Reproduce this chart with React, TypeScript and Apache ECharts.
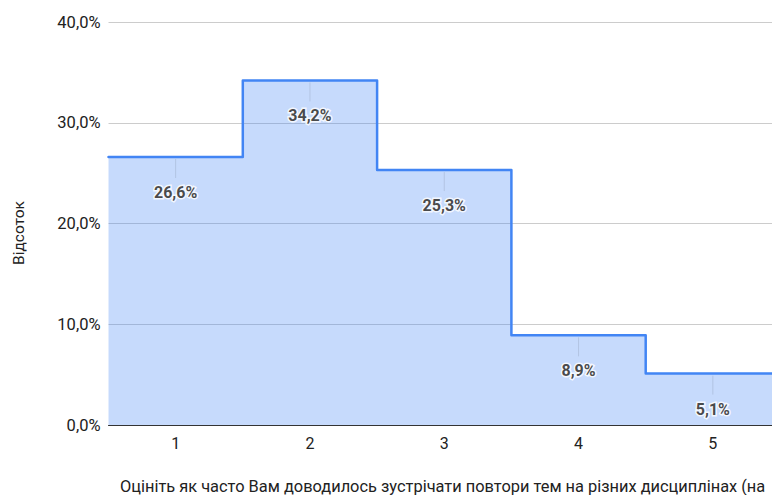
import React, { useEffect, useRef } from "react";
import * as echarts from "echarts";

const categories: string[] = ["1", "2", "3", "4", "5"];
const percentValues: number[] = [26.6, 34.2, 25.3, 8.9, 5.1];
const yTicks = { min: 0, max: 40, interval: 10 };
const yAxisTitle = "Відсоток";
const xAxisTitle = "Оцініть як часто Вам доводилось зустрічати повтори тем на різних дисциплінах (на";

const fmt = (v: number) => v.toFixed(1).replace(".", ",") + "%";

export default function App() {
  const ref = useRef<HTMLDivElement>(null);
  useEffect(() => {
    document.body.style.margin = "0";
    if (!ref.current) return;
    const chart = echarts.init(ref.current, null, { renderer: "svg" });

    // step data on hidden value axis: edges at i+0.5
    const stepData: [number, number][] = percentValues.map((v, i) => [i + 0.5, v]);
    stepData.push([percentValues.length + 0.5, percentValues[percentValues.length - 1]]);

    const font = "Roboto, Arial, sans-serif";

    chart.setOption({
      animation: false,
      backgroundColor: "#ffffff",
      grid: { left: 108.5, top: 22, width: 671.5, height: 403, containLabel: false },
      xAxis: [
        {
          type: "category",
          data: categories,
          boundaryGap: true,
          axisLine: { show: true, lineStyle: { color: "#333333", width: 1 } },
          axisTick: { show: false },
          axisLabel: { color: "#222222", fontSize: 16, fontFamily: font, margin: 10 },
          splitLine: { show: false },
        },
        {
          type: "value",
          min: 0.5,
          max: categories.length + 0.5,
          show: false,
          splitLine: { show: false },
        },
      ],
      yAxis: {
        type: "value",
        min: yTicks.min,
        max: yTicks.max,
        interval: yTicks.interval,
        axisLine: { show: false },
        axisTick: { show: false },
        axisLabel: {
          color: "#222222",
          fontSize: 16.5,
          fontFamily: font,
          margin: 8,
          formatter: (v: number) => fmt(v),
        },
        splitLine: { lineStyle: { color: "#cccccc", width: 1 } },
      },
      series: [
        {
          type: "line",
          xAxisIndex: 1,
          data: stepData,
          step: "end",
          symbol: "none",
          lineStyle: { color: "#4285f4", width: 2.5, join: "round", cap: "round" },
          areaStyle: { color: "#4285f4", opacity: 0.3 },
          z: 2,
        },
        {
          type: "custom",
          xAxisIndex: 0,
          data: percentValues.map((v, i) => [i, v]),
          renderItem: (params: any, api: any) => {
            const p = api.coord([api.value(0), api.value(1)]);
            return {
              type: "line",
              shape: { x1: p[0], y1: p[1] + 2, x2: p[0], y2: p[1] + 21 },
              style: { stroke: "rgba(0,0,0,0.1)", lineWidth: 1 },
            };
          },
          z: 3,
        },
        {
          type: "scatter",
          xAxisIndex: 0,
          data: percentValues,
          symbolSize: 1,
          itemStyle: { color: "transparent" },
          label: {
            show: true,
            position: "bottom",
            distance: 27,
            formatter: (p: any) => fmt(p.value),
            color: "#1a1a1a",
            fontSize: 16,
            fontWeight: "bold",
            fontFamily: font,
            textBorderColor: "#ffffff",
            textBorderWidth: 3,
          },
          emphasis: { disabled: true },
          z: 4,
        },
      ],
      graphic: [
        {
          type: "text",
          x: 18.5,
          y: 233,
          rotation: Math.PI / 2,
          style: {
            text: yAxisTitle,
            fontSize: 15.5,
            fontFamily: font,
            fill: "#222222",
            align: "center",
            verticalAlign: "middle",
          },
        },
        {
          type: "text",
          x: 120,
          y: 486,
          style: {
            text: xAxisTitle,
            fontSize: 16.4,
            fontFamily: font,
            fill: "#222222",
            align: "left",
            verticalAlign: "middle",
          },
        },
      ],
    });
    return () => chart.dispose();
  }, []);
  return (
    <div style={{ width: 772, height: 495, overflow: "hidden", position: "relative" }}>
      <div ref={ref} style={{ width: 800, height: 495 }} />
    </div>
  );
}
